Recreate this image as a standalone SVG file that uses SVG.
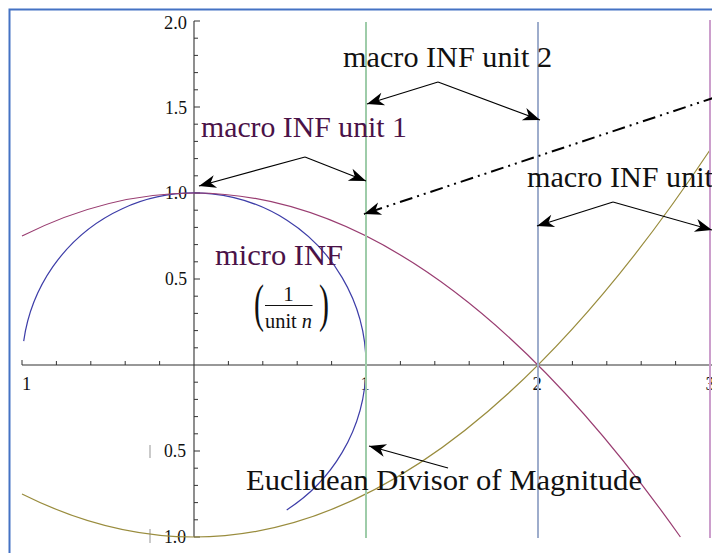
<svg xmlns="http://www.w3.org/2000/svg" width="712" height="553" viewBox="0 0 712 553">
<style>
.axis{stroke:#333;stroke-width:1.1;fill:none}
.tick{stroke:#333;stroke-width:1;fill:none}
.tl{font-family:"Liberation Serif","Times New Roman",serif;font-size:18.5px;fill:#111}
.big{font-family:"Liberation Serif","Times New Roman",serif;font-size:29px}
.frac{font-family:"Liberation Serif","Times New Roman",serif;font-size:21px;fill:#111}
.curve{fill:none;stroke-width:1.2}
.vline{stroke-width:2;fill:none}
.arr{stroke:#000;stroke-width:1.2;fill:none;marker-end:url(#ah)}
.dd{stroke:#000;stroke-width:2;fill:none;stroke-dasharray:13 5 2 5 2 5;marker-end:url(#ah)}
.minus{stroke:#b8b8b8;stroke-width:1.5}
</style>
<defs>
<marker id="ah" viewBox="-18 -8 20 16" markerWidth="20" markerHeight="16" refX="0" refY="0" orient="auto" markerUnits="userSpaceOnUse">
<path d="M0,0 L-17,-6.5 L-12,0 L-17,6.5 Z" fill="#000"/>
</marker>
</defs>
<rect width="712" height="553" fill="#fff"/>
<rect id="frame" x="9.5" y="9.5" width="720" height="570" fill="none" stroke="#4472c4" stroke-width="2"/>

<g id="axes">
<path class="axis" d="M22,365H712M194,21V537"/>
<path class="tick" d="M56.4,365v-4M90.8,365v-4M125.2,365v-4M159.6,365v-4M228.4,365v-4M262.8,365v-4M297.2,365v-4M331.6,365v-4M400.4,365v-4M434.8,365v-4M469.2,365v-4M503.6,365v-4M572.4,365v-4M606.8,365v-4M641.2,365v-4M675.6,365v-4M22,365v-5M366,365v-5M538,365v-5M710,365v-5"/>
<path class="tick" d="M194,38.2h4M194,55.4h4M194,72.6h4M194,89.8h4M194,124.2h4M194,141.4h4M194,158.6h4M194,175.8h4M194,210.2h4M194,227.4h4M194,244.6h4M194,261.8h4M194,296.2h4M194,313.4h4M194,330.6h4M194,347.8h4M194,382.2h4M194,399.4h4M194,416.6h4M194,433.8h4M194,468.2h4M194,485.4h4M194,502.6h4M194,519.8h4M194,21h6M194,107h6M194,193h6M194,279h6M194,451h6M194,537h6"/>
<g id="ticklabels">
<text class="tl" x="187" y="29" text-anchor="end" textLength="23" lengthAdjust="spacingAndGlyphs">2.0</text>
<text class="tl" x="187" y="114" text-anchor="end" textLength="22" lengthAdjust="spacingAndGlyphs">1.5</text>
<text class="tl" x="187" y="199" text-anchor="end" textLength="22" lengthAdjust="spacingAndGlyphs">1.0</text>
<text class="tl" x="187" y="285" text-anchor="end" textLength="22" lengthAdjust="spacingAndGlyphs">0.5</text>
<text class="tl" x="186" y="457" text-anchor="end" textLength="22" lengthAdjust="spacingAndGlyphs">0.5</text>
<text class="tl" x="186" y="543" text-anchor="end" textLength="22" lengthAdjust="spacingAndGlyphs">1.0</text>
<line class="minus" x1="150" y1="445" x2="150" y2="458"/>
<line class="minus" x1="150" y1="529" x2="150" y2="543"/>
<text class="tl" x="26.5" y="390" text-anchor="middle">1</text>
<text class="tl" x="365" y="390" text-anchor="middle">1</text>
<text class="tl" x="537" y="390" text-anchor="middle">2</text>
<text class="tl" x="710" y="390" text-anchor="middle">3</text>
</g>
</g>

<g id="curves">
<path id="circle" class="curve" stroke="#3d3da8" d="M23.7,341.1 A172,172 0 1 1 286.7,509.9"/>
<path id="cos-curve" class="curve" stroke="#993d71" d="M22,236 Q351.2,71.4 680.4,537"/>
<path id="parabola" class="curve" stroke="#998c3d" d="M22,494 Q366,666 710,150"/>
</g>

<g id="unit-lines">
<line id="unit1" class="vline" x1="366" y1="22" x2="366" y2="538" stroke="#9ecca9"/>
<line id="unit2" class="vline" x1="538" y1="22" x2="538" y2="538" stroke="#9eadcc"/>
<line id="unit3" class="vline" x1="710" y1="20" x2="710" y2="538" stroke="#cc9ecc" stroke-width="2.5"/>
</g>

<g id="connectors">
<line class="arr" x1="305" y1="157" x2="199" y2="186"/>
<line class="arr" x1="305" y1="157" x2="366" y2="181"/>
<line class="arr" x1="438" y1="82" x2="367" y2="104"/>
<line class="arr" x1="438" y1="82" x2="540" y2="120"/>
<line class="arr" x1="613" y1="202" x2="537" y2="226"/>
<line class="arr" x1="613" y1="202" x2="712" y2="230"/>
<line class="arr" x1="448" y1="468" x2="369" y2="446"/>
<line class="dd" x1="716" y1="97" x2="364" y2="214"/>
</g>

<g id="label-unit2"><text class="big" x="343" y="67" fill="#111" textLength="209" lengthAdjust="spacingAndGlyphs">macro INF unit 2</text></g>
<g id="label-unit1"><text class="big" x="201" y="137" fill="#4a1248" textLength="206" lengthAdjust="spacingAndGlyphs">macro INF unit 1</text></g>
<g id="label-unit3"><text class="big" x="527" y="187" fill="#111" textLength="186" lengthAdjust="spacingAndGlyphs">macro INF unit</text></g>
<g id="label-micro">
<text class="big" x="215" y="265" fill="#4a1248" textLength="128" lengthAdjust="spacingAndGlyphs">micro INF</text>
<text class="frac" transform="translate(254,320.7) scale(1,1.75)" style="font-size:30px">(</text>
<text class="frac" transform="translate(319,320.7) scale(1,1.75)" style="font-size:30px">)</text>
<text class="frac" x="288.5" y="301" text-anchor="middle">1</text>
<line x1="265" y1="305.5" x2="312.5" y2="305.5" stroke="#111" stroke-width="1.2"/>
<text class="frac" x="265" y="328" textLength="47" lengthAdjust="spacingAndGlyphs">unit <tspan font-style="italic">n</tspan></text>
</g>
<g id="label-euclid"><text class="big" x="246" y="490" fill="#111" textLength="396" lengthAdjust="spacingAndGlyphs">Euclidean Divisor of Magnitude</text></g>
</svg>
